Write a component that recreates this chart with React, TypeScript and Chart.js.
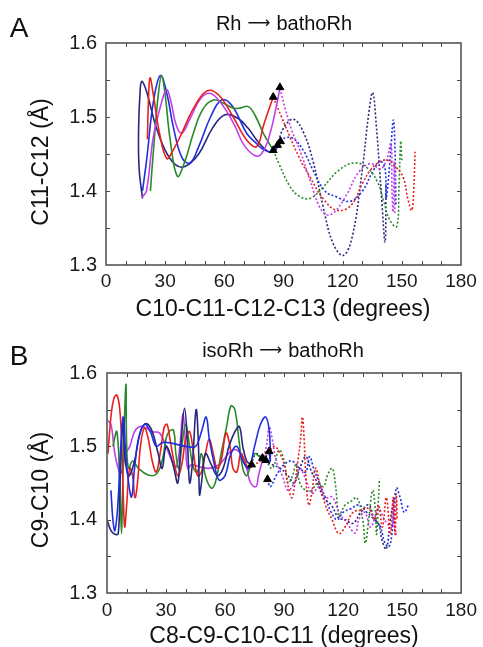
import React, { useEffect, useRef } from "react";
import { Chart, registerables } from "chart.js";
Chart.register(...registerables);

const FONT = "'Liberation Sans', Arial, sans-serif";
const RED = "#e8201e";
const GREEN = "#2a8a2a";
const BLUE = "#1f2fe0";
const NAVY = "#27277e";
const MAGENTA = "#c040e8";

const xTickLabels = [0, 30, 60, 90, 120, 150, 180];
const yTickLabels = [1.3, 1.4, 1.5, 1.6];

// ---------- Panel A: Rh -> bathoRh ----------
const aRedSolidX = [21, 21.5, 22.3, 24, 27, 30.8, 34, 38.4, 44, 51, 57, 64.5, 71, 76.4, 80, 84.8];
const aRedSolidY = [1.47, 1.52, 1.553, 1.53, 1.48, 1.444, 1.455, 1.478, 1.51, 1.535, 1.53, 1.5, 1.47, 1.46, 1.49, 1.527];
const aGreenSolidX = [22.5, 24.5, 26.5, 28.2, 30, 32.5, 36.2, 40, 44.3, 49, 54.4, 60, 64.6, 68, 72.2, 76, 79.8, 84.8];
const aGreenSolidY = [1.4, 1.47, 1.53, 1.556, 1.53, 1.47, 1.42, 1.44, 1.478, 1.51, 1.523, 1.518, 1.512, 1.512, 1.514, 1.5, 1.478, 1.455];
const aBlueSolidX = [18.5, 20.6, 24, 27.6, 31, 34.1, 38.5, 42.6, 47, 53, 58.6, 64, 71.3, 76, 79.8, 84.8, 88.5];
const aBlueSolidY = [1.4, 1.442, 1.52, 1.556, 1.53, 1.487, 1.445, 1.438, 1.46, 1.5, 1.523, 1.515, 1.478, 1.465, 1.456, 1.453, 1.467];
const aNavySolidX = [18.5, 16.8, 16.5, 17.2, 18.1, 20.5, 25, 30, 35, 40, 47, 54, 60.3, 67, 72, 76.4, 80, 83.2, 87];
const aNavySolidY = [1.39, 1.43, 1.48, 1.53, 1.548, 1.535, 1.49, 1.455, 1.436, 1.433, 1.45, 1.485, 1.503, 1.498, 1.485, 1.469, 1.458, 1.453, 1.462];
const aMagentaSolidX = [18.4, 20.5, 24, 28.2, 30.8, 33, 35.5, 38.4, 43, 48, 52.7, 58, 64.6, 70, 76.4, 80, 83.2, 86, 88.2];
const aMagentaSolidY = [1.392, 1.4, 1.473, 1.52, 1.537, 1.52, 1.49, 1.478, 1.5, 1.525, 1.532, 1.52, 1.492, 1.462, 1.447, 1.455, 1.478, 1.51, 1.539];

const aRedDotX = [84.8, 89, 93.3, 98, 103.4, 110, 117, 124, 130, 134, 138, 142.3, 146, 150.6, 153, 155, 156, 156.7];
const aRedDotY = [1.527, 1.5, 1.473, 1.445, 1.419, 1.39, 1.374, 1.38, 1.41, 1.428, 1.438, 1.442, 1.435, 1.419, 1.39, 1.374, 1.4, 1.453];
const aMagentaDotX = [88.2, 91, 94.2, 99, 103.4, 108, 111.9, 116, 122, 128, 133.9, 139, 142, 144.5, 145, 145.6, 146.2, 146.5];
const aMagentaDotY = [1.539, 1.51, 1.482, 1.45, 1.415, 1.38, 1.368, 1.372, 1.395, 1.425, 1.437, 1.43, 1.44, 1.464, 1.4, 1.372, 1.44, 1.37];
const aGreenDotX = [84.8, 88, 93.3, 98, 103.4, 110, 118, 126.3, 133, 138, 140.6, 144, 147.4, 148.5, 149.4, 150];
const aGreenDotY = [1.455, 1.435, 1.406, 1.393, 1.39, 1.405, 1.428, 1.438, 1.43, 1.41, 1.388, 1.36, 1.352, 1.4, 1.467, 1.44];
const aBlueDotX = [88.5, 91, 95, 100, 105, 111, 117, 123.7, 130, 135, 139, 141.5, 142, 143, 144.5, 145.7, 146.5, 147];
const aBlueDotY = [1.467, 1.472, 1.471, 1.455, 1.428, 1.4, 1.392, 1.386, 1.4, 1.425, 1.44, 1.43, 1.39, 1.41, 1.46, 1.496, 1.46, 1.38];
const aNavyDotX = [87, 90, 95, 100, 105, 110, 115, 120.3, 125, 130, 133, 135.2, 137, 139.5, 141.5, 142];
const aNavyDotY = [1.462, 1.485, 1.497, 1.48, 1.44, 1.38, 1.33, 1.313, 1.34, 1.43, 1.5, 1.533, 1.49, 1.4, 1.331, 1.41];

const aTriX = [84.8, 88.2, 84.8, 88.5, 87];
const aTriY = [1.527, 1.54, 1.455, 1.467, 1.462];

// ---------- Panel B: isoRh -> bathoRh ----------
const bRedSolidX = [0.5, 2, 3.5, 5, 6.5, 7.5, 8.3, 9, 10, 11.5, 13, 14.2, 15.5, 17, 19, 21, 23, 25, 27, 29, 30.5, 32, 34, 36, 38, 40, 42, 44, 46, 48, 50, 52, 54, 56, 58, 60.5, 62.5, 64, 66, 68, 70, 72, 74];
const bRedSolidY = [1.49, 1.54, 1.565, 1.57, 1.55, 1.5, 1.43, 1.39, 1.42, 1.47, 1.46, 1.43, 1.45, 1.5, 1.525, 1.51, 1.48, 1.465, 1.49, 1.525, 1.53, 1.51, 1.48, 1.46, 1.475, 1.51, 1.52, 1.49, 1.46, 1.465, 1.49, 1.51, 1.49, 1.47, 1.48, 1.518, 1.5, 1.47, 1.465, 1.49, 1.48, 1.47, 1.474];
const bGreenSolidX = [3, 5, 6.5, 7.4, 8, 9.6, 10, 11, 13, 16, 20.9, 25, 28, 30, 31.5, 33.8, 35, 36.5, 38, 40, 42, 44, 46, 48, 50, 53, 55, 58, 61, 63, 65, 67, 69, 71, 73, 75, 78, 80.7];
const bGreenSolidY = [1.5, 1.52, 1.45, 1.381, 1.45, 1.584, 1.5, 1.47, 1.48, 1.47, 1.461, 1.462, 1.48, 1.51, 1.52, 1.522, 1.49, 1.47, 1.5, 1.53, 1.5, 1.47, 1.465, 1.49, 1.46, 1.443, 1.45, 1.49, 1.53, 1.555, 1.55, 1.51, 1.47, 1.46, 1.475, 1.49, 1.485, 1.481];
const bBlueSolidX = [2, 3, 4, 5.5, 7, 8.3, 9.5, 11, 12.5, 14, 16, 19, 22, 25, 28, 31, 35, 40, 45, 48, 50.4, 52, 55, 57, 60, 63, 66, 69, 72, 75, 78, 80.7, 82.5, 83, 82.4];
const bBlueSolidY = [1.44, 1.4, 1.385, 1.42, 1.5, 1.54, 1.49, 1.45, 1.431, 1.47, 1.51, 1.53, 1.52, 1.5, 1.505, 1.505, 1.503, 1.5, 1.5, 1.52, 1.54, 1.51, 1.47, 1.454, 1.46, 1.49, 1.5, 1.48, 1.47, 1.5, 1.53, 1.54, 1.52, 1.48, 1.493];
const bNavySolidX = [0, 2, 4, 5.7, 6.5, 7.5, 8.3, 9, 11, 14, 17, 20, 23, 26, 28, 30, 32, 34, 36, 37.5, 39.4, 41, 42, 43.5, 45.3, 46.5, 47, 48, 50, 53, 56, 59, 62, 65, 67.3, 69, 71, 73.1];
const bNavySolidY = [1.4, 1.385, 1.38, 1.381, 1.44, 1.51, 1.536, 1.49, 1.46, 1.48, 1.52, 1.531, 1.52, 1.49, 1.47, 1.5, 1.49, 1.47, 1.45, 1.5, 1.552, 1.5, 1.45, 1.48, 1.55, 1.5, 1.434, 1.45, 1.49, 1.475, 1.46, 1.47, 1.5, 1.52, 1.527, 1.5, 1.48, 1.475];
const bMagentaSolidX = [0, 2, 4, 6.6, 8, 9.5, 11.6, 14, 16.7, 20, 23, 26.8, 30, 33, 35.2, 37, 38.6, 40, 41, 43, 47, 52, 57, 63.9, 68, 71, 73, 75.7, 77, 79];
const bMagentaSolidY = [1.536, 1.53, 1.49, 1.463, 1.47, 1.49, 1.5, 1.52, 1.527, 1.525, 1.52, 1.518, 1.5, 1.48, 1.472, 1.5, 1.545, 1.5, 1.47, 1.475, 1.472, 1.47, 1.475, 1.495, 1.49, 1.47, 1.45, 1.445, 1.46, 1.481];

const bRedDotX = [74, 78, 82, 85, 88, 90.5, 92.5, 94, 95.5, 97, 98.4, 99.3, 100.2, 101, 102.5, 104, 106, 108, 111, 114.4, 117.8, 121, 125, 129, 133, 136, 138, 140, 142, 144, 145.5, 146.5, 147, 147.5];
const bRedDotY = [1.474, 1.48, 1.49, 1.5, 1.49, 1.47, 1.44, 1.43, 1.45, 1.48, 1.51, 1.54, 1.51, 1.46, 1.42, 1.435, 1.47, 1.45, 1.42, 1.4, 1.381, 1.39, 1.41, 1.413, 1.415, 1.4, 1.42, 1.39, 1.43, 1.38, 1.43, 1.38, 1.435, 1.4];
const bGreenDotX = [80.7, 84, 87.5, 90, 92, 94.2, 96, 98, 101, 104, 107, 110, 112, 114.4, 116, 117.8, 119, 121, 124, 127, 130, 131.3, 133, 135, 136.4, 137, 138, 138.5];
const bGreenDotY = [1.481, 1.47, 1.495, 1.48, 1.45, 1.459, 1.475, 1.45, 1.44, 1.44, 1.45, 1.445, 1.46, 1.47, 1.45, 1.404, 1.41, 1.42, 1.425, 1.43, 1.4, 1.368, 1.4, 1.44, 1.413, 1.38, 1.43, 1.456];
const bBlueDotX = [81.6, 83, 86, 90, 94, 98, 101, 103, 105, 108, 111, 114, 117, 120, 124, 128, 132, 136, 139, 141, 143.2, 144.8, 147, 149, 151, 153.2];
const bBlueDotY = [1.455, 1.445, 1.46, 1.475, 1.48, 1.47, 1.465, 1.486, 1.47, 1.45, 1.43, 1.41, 1.4, 1.41, 1.415, 1.42, 1.41, 1.4, 1.39, 1.37, 1.363, 1.38, 1.443, 1.43, 1.41, 1.42];
const bNavyDotX = [73.1, 76, 80, 84, 88, 92, 95, 98, 101, 104, 107, 110, 114, 117.8, 121, 125, 129, 133, 136, 138, 140, 142, 144, 146];
const bNavyDotY = [1.475, 1.49, 1.48, 1.475, 1.47, 1.46, 1.45, 1.47, 1.486, 1.465, 1.45, 1.43, 1.42, 1.402, 1.4, 1.395, 1.41, 1.42, 1.4, 1.395, 1.37, 1.36, 1.4, 1.43];
const bMagentaDotX = [79, 81, 82.4, 84, 86, 89.2, 92, 95, 98, 101, 104.3, 108, 111, 114.4, 118, 122, 126.2, 128, 131, 134, 138, 141, 144.8, 145.5, 146.5, 147.3];
const bMagentaDotY = [1.481, 1.5, 1.527, 1.51, 1.48, 1.459, 1.44, 1.45, 1.47, 1.455, 1.436, 1.445, 1.43, 1.431, 1.41, 1.395, 1.382, 1.4, 1.41, 1.39, 1.415, 1.4, 1.39, 1.43, 1.38, 1.381];

const bTriX = [73.5, 79, 82.4, 81.6, 80.7];
const bTriY = [1.475, 1.484, 1.493, 1.455, 1.481];

function xy(xs: number[], ys: number[]) {
  return xs.map((x, i) => ({ x, y: ys[i] }));
}

function line(xs: number[], ys: number[], color: string, dotted: boolean) {
  return {
    data: xy(xs, ys),
    borderColor: color,
    backgroundColor: color,
    borderWidth: 1.6,
    borderDash: dotted ? [2, 2] : [],
    pointRadius: 0,
    showLine: true,
    tension: 0.4,
    fill: false,
  };
}

function triangles(xs: number[], ys: number[]) {
  return {
    data: xy(xs, ys),
    pointStyle: "triangle",
    pointRadius: 4.5,
    backgroundColor: "#000",
    borderColor: "#000",
    borderWidth: 1,
    showLine: false,
  };
}

const frameTicks = {
  id: "frameTicks",
  afterDatasetsDraw(chart: any) {
    const { ctx, chartArea } = chart;
    const { left, right, top, bottom } = chartArea;
    const xs = chart.scales.x;
    const ys = chart.scales.y;
    ctx.save();
    ctx.beginPath();
    ctx.strokeStyle = "#444";
    ctx.lineWidth = 1;
    for (let v = 10; v < 180; v += 10) {
      const px = Math.round(xs.getPixelForValue(v)) + 0.5;
      ctx.moveTo(px, bottom);
      ctx.lineTo(px, bottom - 4);
      ctx.moveTo(px, top);
      ctx.lineTo(px, top + 4);
    }
    for (let k = 1; k < 6; k++) {
      const v = 1.3 + k * 0.05;
      const py = Math.round(ys.getPixelForValue(v)) + 0.5;
      ctx.moveTo(left, py);
      ctx.lineTo(left + 4, py);
      ctx.moveTo(right, py);
      ctx.lineTo(right - 4, py);
    }
    ctx.stroke();
    ctx.strokeStyle = "#555";
    ctx.lineWidth = 1.6;
    ctx.strokeRect(left, top, right - left, bottom - top);
    ctx.restore();
  },
};

function makeConfig(datasets: any[], pad: { top: number; right: number }, yWidth: number, xHeight: number, xPad: number, yPad: number) {
  return {
    type: "scatter",
    data: { datasets },
    options: {
      animation: false,
      responsive: false,
      devicePixelRatio: 1,
      layout: { padding: { top: pad.top, right: pad.right, left: 0, bottom: 0 } },
      plugins: { legend: { display: false }, tooltip: { enabled: false }, title: { display: false } },
      scales: {
        x: {
          type: "linear",
          min: 0,
          max: 180,
          afterFit: (s: any) => {
            s.height = xHeight;
          },
          grid: { display: false, drawTicks: false },
          border: { display: false },
          ticks: {
            stepSize: 10,
            autoSkip: false,
            maxRotation: 0,
            minRotation: 0,
            padding: xPad,
            color: "#1a1a1a",
            font: { size: 19, family: FONT },
            callback: (v: number) => {
              const r = Math.round(v);
              return xTickLabels.includes(r) ? String(r) : "";
            },
          },
        },
        y: {
          type: "linear",
          min: 1.3,
          max: 1.6,
          afterFit: (s: any) => {
            s.width = yWidth;
          },
          grid: { display: false, drawTicks: false },
          border: { display: false },
          ticks: {
            stepSize: 0.05,
            autoSkip: false,
            padding: yPad,
            color: "#1a1a1a",
            font: { size: 20, family: FONT },
            callback: (v: number) => {
              const r = Math.round(v * 100) / 100;
              const hit = yTickLabels.find((t) => Math.abs(t - r) < 1e-6);
              return hit !== undefined ? hit.toFixed(1) : "";
            },
          },
        },
      },
    },
    plugins: [frameTicks],
  };
}

const datasetsA = [
  triangles(aTriX, aTriY),
  line(aRedSolidX, aRedSolidY, RED, false),
  line(aMagentaSolidX, aMagentaSolidY, MAGENTA, false),
  line(aGreenSolidX, aGreenSolidY, GREEN, false),
  line(aBlueSolidX, aBlueSolidY, BLUE, false),
  line(aNavySolidX, aNavySolidY, NAVY, false),
  line(aRedDotX, aRedDotY, RED, true),
  line(aMagentaDotX, aMagentaDotY, MAGENTA, true),
  line(aGreenDotX, aGreenDotY, GREEN, true),
  line(aBlueDotX, aBlueDotY, BLUE, true),
  line(aNavyDotX, aNavyDotY, NAVY, true),
];

const datasetsB = [
  triangles(bTriX, bTriY),
  line(bBlueSolidX, bBlueSolidY, BLUE, false),
  line(bNavySolidX, bNavySolidY, NAVY, false),
  line(bRedSolidX, bRedSolidY, RED, false),
  line(bGreenSolidX, bGreenSolidY, GREEN, false),
  line(bMagentaSolidX, bMagentaSolidY, MAGENTA, false),
  line(bRedDotX, bRedDotY, RED, true),
  line(bMagentaDotX, bMagentaDotY, MAGENTA, true),
  line(bGreenDotX, bGreenDotY, GREEN, true),
  line(bBlueDotX, bBlueDotY, BLUE, true),
  line(bNavyDotX, bNavyDotY, NAVY, true),
];

const textBase: React.CSSProperties = {
  position: "absolute",
  fontFamily: FONT,
  color: "#111",
  lineHeight: 1,
  whiteSpace: "nowrap",
  transform: "translate(-50%, -50%)",
};

function Label(props: { x: number; y: number; size: number; rotate?: boolean; children: React.ReactNode }) {
  const style: React.CSSProperties = {
    ...textBase,
    left: props.x,
    top: props.y,
    fontSize: props.size,
    transform: props.rotate ? "translate(-50%, -50%) rotate(-90deg)" : "translate(-50%, -50%)",
  };
  return <div style={style}>{props.children}</div>;
}

const arrowStyle: React.CSSProperties = { fontFamily: "'DejaVu Sans', sans-serif", fontSize: 16, margin: "0 6px", verticalAlign: "2px" };

export default function App() {
  const refA = useRef<HTMLCanvasElement | null>(null);
  const refB = useRef<HTMLCanvasElement | null>(null);

  useEffect(() => {
    const chA = new Chart(refA.current as HTMLCanvasElement, makeConfig(datasetsA, { top: 43, right: 22 }, 106, 58, 5, 9) as any);
    const chB = new Chart(refB.current as HTMLCanvasElement, makeConfig(datasetsB, { top: 50, right: 20 }, 107, 54, 6, 10) as any);
    return () => {
      chA.destroy();
      chB.destroy();
    };
  }, []);

  return (
    <div style={{ position: "absolute", left: 0, top: 0, width: 483, height: 647, background: "#fff", overflow: "hidden" }}>
      <canvas ref={refA} width={483} height={323} style={{ position: "absolute", left: 0, top: 0, width: 483, height: 323 }} />
      <canvas ref={refB} width={483} height={324} style={{ position: "absolute", left: 0, top: 323, width: 483, height: 324 }} />
      <Label x={19} y={28} size={28}>A</Label>
      <Label x={284} y={23} size={20}>Rh<span style={arrowStyle}>⟶</span>bathoRh</Label>
      <Label x={40} y={162} size={23} rotate>C11-C12 (Å)</Label>
      <Label x={283} y={308} size={23}>C10-C11-C12-C13 (degrees)</Label>
      <Label x={19} y={356} size={28}>B</Label>
      <Label x={283} y={350} size={20}>isoRh<span style={arrowStyle}>⟶</span>bathoRh</Label>
      <Label x={40} y={490} size={23} rotate>C9-C10 (Å)</Label>
      <Label x={284} y={635} size={23}>C8-C9-C10-C11 (degrees)</Label>
    </div>
  );
}
